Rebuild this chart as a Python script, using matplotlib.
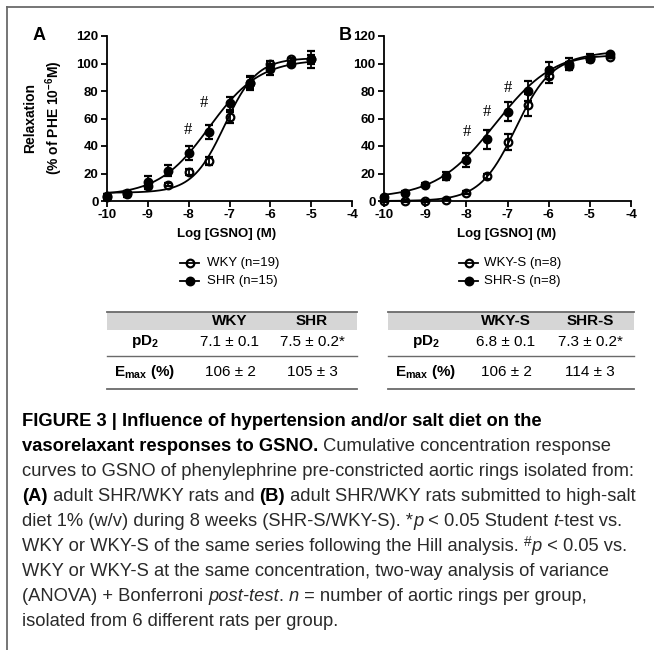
import numpy as np
import matplotlib
matplotlib.use('Agg')
import matplotlib.pyplot as plt
from matplotlib.lines import Line2D
from matplotlib.patches import Rectangle

plt.rcParams['font.family'] = ['Liberation Sans', 'DejaVu Sans']
plt.rcParams['mathtext.fontset'] = 'custom'
plt.rcParams['mathtext.rm'] = 'Liberation Sans'
plt.rcParams['mathtext.bf'] = 'Liberation Sans:bold'
plt.rcParams['mathtext.it'] = 'Liberation Sans:italic'
plt.rcParams['axes.unicode_minus'] = False

# ---- data ----
log_a = [-10, -9.5, -9, -8.5, -8, -7.5, -7, -6.5, -6, -5.5, -5]
wky = [4, 6, 11, 12, 21, 29, 61, 86, 100, 103, 103]
wky_err = [1, 1, 2, 1, 2, 3, 4, 4, 2, 1, 3]
shr = [3, 5, 14, 22, 35, 50, 71, 86, 96, 100, 103]
shr_err = [2, 2, 4, 4, 5, 5, 5, 5, 4, 2, 6]

log_b = [-10, -9.5, -9, -8.5, -8, -7.5, -7, -6.5, -6, -5.5, -5, -4.5]
wky_s = [0, 0, 0, 1, 6, 18, 43, 70, 91, 98, 103, 105]
wky_s_err = [0.5, 0.5, 0.5, 0.5, 1, 2, 6, 8, 5, 3, 2, 1]
shr_s = [3, 6, 12, 18, 30, 45, 65, 80, 95, 100, 104, 107]
shr_s_err = [1, 1, 1, 3, 5, 7, 7, 7, 6, 4, 3, 1]

# Hill fits: bottom, top, logEC50, slope
fit_wky = (6, 104, -7.12, 1.1)
fit_shr = (4, 103, -7.5, 0.7)
fit_wky_s = (0, 106, -6.8, 1.0)
fit_shr_s = (2, 110, -7.3, 0.6)

# significance marks (#)
hash_a = [(-8.02, 52), (-7.63, 71)]
hash_b = [(-7.99, 50), (-7.51, 65), (-7.0, 82)]

xticks = [-10, -9, -8, -7, -6, -5, -4]
yticks = [0, 20, 40, 60, 80, 100, 120]

legend_a = ['WKY (n=19)', 'SHR (n=15)']
legend_b = ['WKY-S (n=8)', 'SHR-S (n=8)']

table_a = [['WKY', 'SHR'], ['7.1 ± 0.1', '7.5 ± 0.2*'], ['106 ± 2', '105 ± 3']]
table_b = [['WKY-S', 'SHR-S'], ['6.8 ± 0.1', '7.3 ± 0.2*'], ['106 ± 2', '114 ± 3']]


def hill(x, bottom, top, logec50, slope):
    return bottom + (top - bottom) / (1 + 10 ** ((logec50 - x) * slope))


W, H = 654, 650
fig = plt.figure(figsize=(W / 100, H / 100), dpi=100)


def fx(x):
    return x / W


def fy(y):
    return 1 - y / H


# frame lines of the figure page
fig.add_artist(Line2D([fx(7), 1], [fy(7), fy(7)], color='#6a6a6a', lw=1.3, transform=fig.transFigure))
fig.add_artist(Line2D([fx(7), fx(7)], [fy(7), 0], color='#6a6a6a', lw=1.3, transform=fig.transFigure))


def panel(left, width, x, series, hashes, xmax_curve):
    ax = fig.add_axes([fx(left), fy(201), width / W, 165 / H])
    for y, err, fit, filled in series:
        xs = np.linspace(-10, xmax_curve, 300)
        ax.plot(xs, hill(xs, *fit), color='black', lw=1.3, zorder=2, clip_on=False)
        eb = ax.errorbar(x, y, yerr=err, fmt='o', ms=5.5, mew=1.6,
                         mfc='black' if filled else 'none', mec='black',
                         ecolor='black', elinewidth=1.3, capsize=2.8, capthick=1.3, zorder=3)
        for art in eb.get_children():
            art.set_clip_on(False)
    for hx, hy in hashes:
        ax.text(hx, hy, '#', ha='center', va='center', fontsize=12,
                family=['Liberation Serif', 'DejaVu Serif'])
    ax.set_xlim(-10, -4)
    ax.set_ylim(0, 120)
    ax.set_xticks(xticks)
    ax.set_xticklabels([str(t) for t in xticks])
    ax.set_yticks(yticks)
    ax.set_yticklabels([str(t) for t in yticks])
    for s in ['top', 'right']:
        ax.spines[s].set_visible(False)
    for s in ['left', 'bottom']:
        ax.spines[s].set_linewidth(1.3)
    ax.tick_params(direction='out', length=4, width=1.3, labelsize=9.5, pad=2)
    for lbl in ax.get_xticklabels() + ax.get_yticklabels():
        lbl.set_fontweight('bold')
    ax.patch.set_alpha(0)
    return ax


ax_a = panel(107, 245, log_a, [(wky, wky_err, fit_wky, False), (shr, shr_err, fit_shr, True)], hash_a, -5)
ax_b = panel(384, 247, log_b, [(wky_s, wky_s_err, fit_wky_s, False), (shr_s, shr_s_err, fit_shr_s, True)], hash_b, -4.5)

# panel letters
fig.text(fx(39), fy(35), 'A', fontsize=13, fontweight='bold', ha='center', va='center')
fig.text(fx(345), fy(35), 'B', fontsize=13, fontweight='bold', ha='center', va='center')

# y label
fig.text(fx(44), fy(118), 'Relaxation\n(% of PHE 10$^{\\mathbf{-6}}$M)', rotation=90,
         ha='center', va='center', fontsize=10, fontweight='bold', linespacing=1.35, multialignment='center')

# x labels
fig.text(fx(227), fy(234), 'Log [GSNO] (M)', ha='center', va='center', fontsize=9.5, fontweight='bold')
fig.text(fx(507), fy(234), 'Log [GSNO] (M)', ha='center', va='center', fontsize=9.5, fontweight='bold')


# legends
def legend(x_line, x_text, labels):
    for i, (lab, filled) in enumerate(zip(labels, [False, True])):
        y = 263 + 18 * i
        fig.add_artist(Line2D([fx(x_line), fx(x_line + 19)], [fy(y), fy(y)], color='black', lw=1.3,
                              transform=fig.transFigure))
        fig.add_artist(Line2D([fx(x_line + 9.5)], [fy(y)], marker='o', ms=5.5, mew=1.6,
                              mfc='black' if filled else 'none', mec='black', transform=fig.transFigure))
        fig.text(fx(x_text), fy(y), lab, ha='left', va='center', fontsize=9.5)


legend(180, 207, legend_a)
legend(459, 484, legend_b)


# tables
def table(x0, x1, cols, data):
    fig.add_artist(Rectangle((fx(x0), fy(330)), (x1 - x0) / W, 18 / H, transform=fig.transFigure,
                             facecolor='#d6d6d6', edgecolor='none'))
    for yl, lw in [(312, 1.3), (356, 1.0), (389, 1.3)]:
        fig.add_artist(Line2D([fx(x0), fx(x1)], [fy(yl), fy(yl)], color='#6a6a6a', lw=lw,
                              transform=fig.transFigure))
    xl, c1, c2 = cols
    fig.text(fx(c1), fy(321), data[0][0], ha='center', va='center', fontsize=11, fontweight='bold')
    fig.text(fx(c2), fy(321), data[0][1], ha='center', va='center', fontsize=11, fontweight='bold')
    fig.text(fx(xl), fy(342), 'pD$_\\mathbf{2}$', ha='center', va='center', fontsize=11, fontweight='bold')
    fig.text(fx(xl), fy(372), 'E$_\\mathbf{max}$ (%)', ha='center', va='center', fontsize=11, fontweight='bold')
    for r, yr in [(1, 342), (2, 372)]:
        fig.text(fx(c1), fy(yr), data[r][0], ha='center', va='center', fontsize=11)
        fig.text(fx(c2), fy(yr), data[r][1], ha='center', va='center', fontsize=11)


table(107, 357, (145, 230, 312), table_a)
table(388, 634, (426, 506, 590), table_b)

# caption
renderer = fig.canvas.get_renderer()
cap_family = ['Liberation Sans Narrow', 'Liberation Sans']
cap_color = '#2a2a2a'


def measure(s, size, **kw):
    t = fig.text(0, 0, s + '|', fontsize=size, family=cap_family, **kw)
    w1 = t.get_window_extent(renderer).width
    t.set_text('|')
    w2 = t.get_window_extent(renderer).width
    t.remove()
    return w1 - w2


ref_line = 'curves to GSNO of phenylephrine pre-constricted aortic rings isolated from:'
cap_size = 13 * 610 / measure(ref_line, 13)

N, B, I, S = {}, {'fontweight': 'bold'}, {'style': 'italic'}, 'sup'
caption = [
    [('FIGURE 3 | Influence of hypertension and/or salt diet on the', B)],
    [('vasorelaxant responses to GSNO.', B), (' Cumulative concentration response', N)],
    [(ref_line, N)],
    [('(A)', B), (' adult SHR/WKY rats and ', N), ('(B)', B), (' adult SHR/WKY rats submitted to high-salt', N)],
    [('diet 1% (w/v) during 8 weeks (SHR-S/WKY-S). *', N), ('p', I), (' < 0.05 Student ', N), ('t', I),
     ('-test vs.', N)],
    [('WKY or WKY-S of the same series following the Hill analysis. ', N), ('#', S), ('p', I),
     (' < 0.05 vs.', N)],
    [('WKY or WKY-S at the same concentration, two-way analysis of variance', N)],
    [('(ANOVA) + Bonferroni ', N), ('post-test', I), ('. ', N), ('n', I), (' = number of aortic rings per group,', N)],
    [('isolated from 6 different rats per group.', N)],
]

for i, line in enumerate(caption):
    y = 426 + 25 * i
    x = 22
    for txt, style in line:
        if style == S:
            size = cap_size * 0.75
            fig.text(fx(x), fy(y - 5), txt, fontsize=size, family=cap_family, color=cap_color,
                     ha='left', va='baseline')
            x += measure(txt, size)
            continue
        color = 'black' if style == B else cap_color
        fig.text(fx(x), fy(y), txt, fontsize=cap_size, family=cap_family, color=color,
                 ha='left', va='baseline', **style)
        x += measure(txt, cap_size, **style)

fig.savefig('out.png', dpi=100)
